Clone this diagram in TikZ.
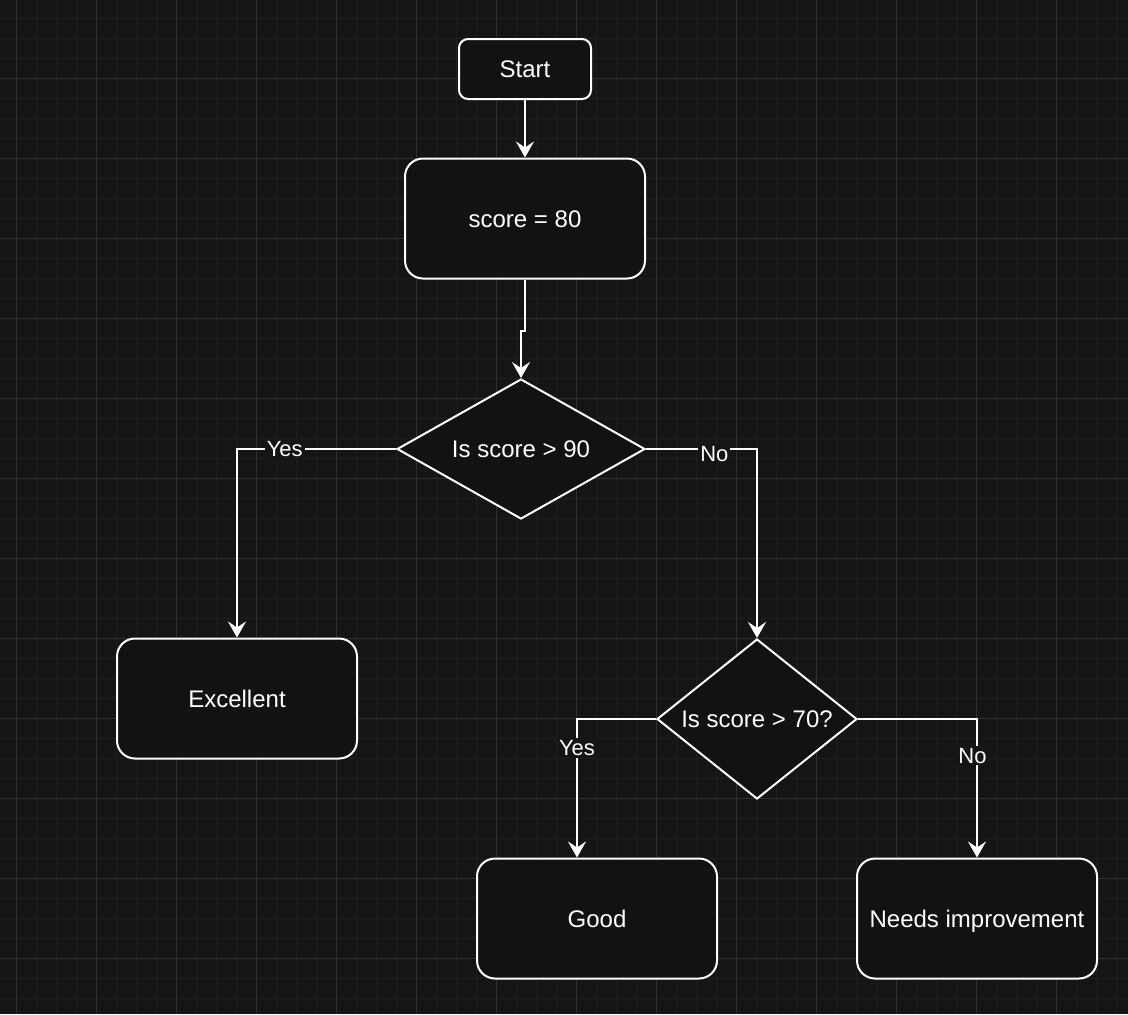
\documentclass[tikz,border=0pt]{standalone}
\usepackage{fontspec}
\setmainfont{Liberation Sans}
\usetikzlibrary{arrows.meta,positioning,shapes.geometric}
\definecolor{fcback}{RGB}{21,21,21}
\definecolor{fcfill}{RGB}{18,18,18}
\definecolor{fcminor}{RGB}{30,30,30}
\definecolor{fcmajor}{RGB}{48,48,48}
\tikzset{
  flowtext/.style={text=white, font=\fontsize{12}{14}\selectfont, text height=8.6pt, text depth=0pt},
  flowbox/.style={draw=white, fill=fcfill, line width=1pt, rounded corners=9pt,
    minimum width=120pt, minimum height=60pt, flowtext},
  flowchoice/.style={draw=white, fill=fcfill, line width=1pt, diamond, inner sep=0pt,
    label={[flowtext]center:#1}},
  flowarrow/.style={draw=white, line width=1pt, -{Stealth[length=8pt,width=9pt,inset=3pt]}},
  flowlabel/.style={fill=fcback, text=white, inner sep=1pt, text height=7.9pt, text depth=0pt,
    font=\fontsize{11}{13}\selectfont},
}

\begin{document}
\begin{tikzpicture}[x=0.5pt, y=-0.5pt]
  % background and grid
  \fill[fcback] (0,0) rectangle (1128,1014);
  \useasboundingbox (0,0) rectangle (1128,1014);
  \foreach \gx in {-3.3,16.7,...,1130} \draw[fcminor, line width=0.5pt] (\gx,0) -- (\gx,1014);
  \foreach \gy in {-2,18,...,1016} \draw[fcminor, line width=0.5pt] (0,\gy) -- (1128,\gy);
  \foreach \gx in {16.7,96.7,...,1130} \draw[fcmajor, line width=0.5pt] (\gx,0) -- (\gx,1014);
  \foreach \gy in {78,158,...,1016} \draw[fcmajor, line width=0.5pt] (0,\gy) -- (1128,\gy);

  % nodes
  \node[flowbox, minimum width=66pt, minimum height=30pt, rounded corners=4.5pt] (start) at (525,69) {Start};
  \node[flowbox] (score) at (525,218.5) {score = 80};
  \node[flowchoice={Is score > 90}, minimum width=124pt, minimum height=70pt] (isninety) at (521,449) {};
  \node[flowbox] (excellent) at (237,698.5) {Excellent};
  \node[flowchoice={Is score > 70?}, minimum width=100pt, minimum height=80pt] (isseventy) at (757,719) {};
  \node[flowbox] (good) at (597,918.5) {Good};
  \node[flowbox] (improve) at (977,918.5) {Needs improvement};

  % connectors
  \draw[flowarrow] (start) -- (score);
  \draw[flowarrow] (score.south) -- ++(0,51) -| (isninety.north);
  \draw[flowarrow] (isninety.west) -| node[flowlabel, pos=0.35] (yesninety) {Yes} (excellent.north);
  \draw[flowarrow] (isninety.east) -| node[flowlabel, pos=0.308, yshift=-2.5pt] (noninety) {No} (isseventy.north);
  \draw[flowarrow] (isseventy.west) -| node[flowlabel, pos=0.604] (yesseventy) {Yes} ([xshift=-10pt]good.north);
  \draw[flowarrow] (isseventy.east) -| node[flowlabel, pos=0.632, xshift=-2.25pt] (noseventy) {No} (improve.north);
\end{tikzpicture}
\end{document}
